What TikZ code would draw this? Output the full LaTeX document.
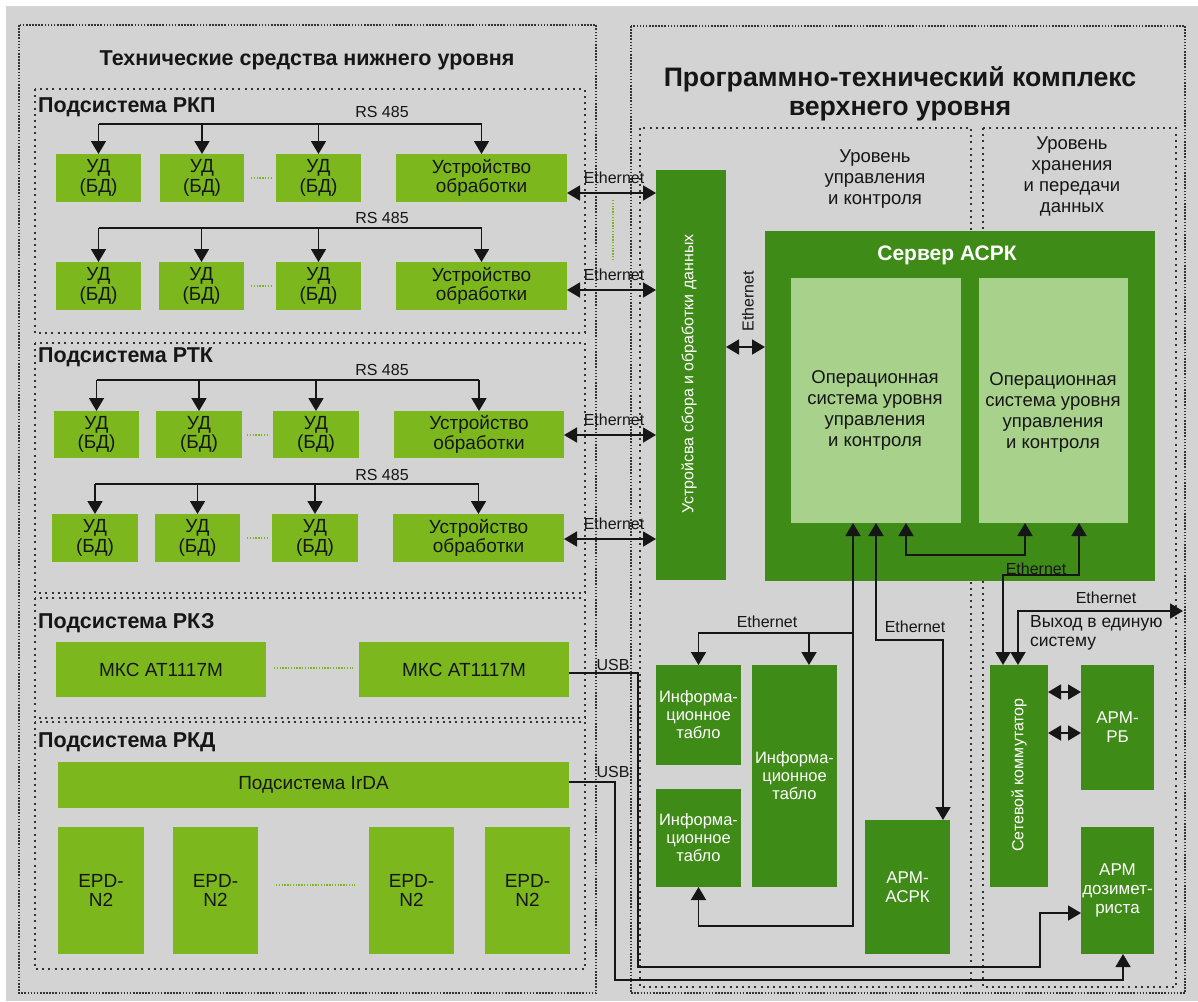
\documentclass[tikz,border=0pt]{standalone}
\usepackage{fontspec}
\setmainfont{Liberation Sans}
\usetikzlibrary{arrows.meta}
\definecolor{bg}{HTML}{D3D3D3}
\definecolor{lgr}{HTML}{7CB81D}
\definecolor{dgr}{HTML}{3F8B17}
\definecolor{pgr}{HTML}{A8D18B}
\definecolor{ink}{HTML}{161616}
\definecolor{dotc}{HTML}{333333}

\newcommand\fz[2]{\fontsize{#1}{#2}\selectfont}
% block given by its corners: style, name, x1, y1, x2, y2, text
\newcommand\blk[7]{\node[#1,minimum width={(#5)-(#3)},minimum height={(#6)-(#4)}] (#2) at ({((#3)+(#5))/2},{((#4)+(#6))/2}) {#7};}

\tikzset{
  Tri/.tip={Triangle[length=13pt,width=15pt]},
  base/.style={inner sep=0pt, outer sep=0pt, align=center},
  lbox/.style={base, fill=lgr, text=ink, font=\fz{19}{19.5}},
  dbox/.style={base, fill=dgr, text=white, font=\fz{16.5}{18}},
  abox/.style={base, fill=dgr, text=white, font=\fz{17}{19}},
  pbox/.style={base, fill=pgr},
  outerdots/.style={draw=dotc, line width=1.6pt, dash pattern=on 1.6pt off 1.5pt},
  innerdots/.style={draw=dotc, line width=2pt, dash pattern=on 2pt off 4.2pt},
  gdots/.style={draw=lgr, line width=1.5pt, dash pattern=on 1.4pt off 1.4pt},
  wire/.style={draw=ink, line width=1.8pt},
  one/.style={wire, -Tri},
  two/.style={wire, Tri-Tri},
  lab/.style={text=ink, font=\fz{16}{18}, inner sep=0pt},
  txt/.style={text=ink, font=\fz{18.5}{21}, inner sep=0pt, align=center},
  head/.style={text=ink, font=\bfseries\fz{21.5}{24}, inner sep=0pt},
}

\begin{document}
\begin{tikzpicture}[x=1pt,y=-1pt]
\useasboundingbox (0,0) rectangle (1198,1001);
\fill[white] (0,0) rectangle (1198,1001);
\fill[bg] (6,6) rectangle (1198,1001);

% ---------- frames ----------
\draw[outerdots] (19,25) rectangle (596,993);
\draw[outerdots] (631,26) rectangle (1185,993);
\draw[innerdots] (35,89) rectangle (585,333);
\draw[innerdots] (35,343) rectangle (585,593);
\draw[innerdots] (35,598) rectangle (585,718);
\draw[innerdots] (35,722) rectangle (585,969);
\draw[innerdots] (640,128) rectangle (971,987);
\draw[innerdots] (983,128) rectangle (1176,987);

% ---------- headings ----------
\node[head, anchor=base] (ttl1) at (307,65) {Технические средства нижнего уровня};
\node[head, font=\bfseries\fz{26.7}{29}, anchor=base] (ttl2a) at (900,86) {Программно-технический комплекс};
\node[head, font=\bfseries\fz{26.7}{29}, anchor=base] (ttl2b) at (900,115) {верхнего уровня};
\node[head, anchor=base west] (hrkp) at (38,112) {Подсистема РКП};
\node[head, anchor=base west] (hrtk) at (38,362) {Подсистема РТК};
\node[head, anchor=base west] (hrkz) at (38,628) {Подсистема РКЗ};
\node[head, anchor=base west] (hrkd) at (38,747) {Подсистема РКД};
\node[txt] (lvl1) at (875,179) {Уровень\\управления\\и контроля};
\node[txt] (lvl2) at (1072,176) {Уровень\\хранения\\и передачи\\данных};

% ---------- subsystem RKP ----------
\blk{lbox}{u11}{56}{154}{141}{202}{УД\\(БД)}
\blk{lbox}{u12}{160}{154}{244}{202}{УД\\(БД)}
\blk{lbox}{u13}{276}{154}{361}{202}{УД\\(БД)}
\blk{lbox}{d11}{396}{154}{567}{202}{Устройство\\обработки}
\blk{lbox}{u21}{56}{262}{141}{310}{УД\\(БД)}
\blk{lbox}{u22}{159}{262}{244}{310}{УД\\(БД)}
\blk{lbox}{u23}{276}{262}{361}{310}{УД\\(БД)}
\blk{lbox}{d21}{396}{262}{567}{310}{Устройство\\обработки}

% ---------- subsystem RTK ----------
\blk{lbox}{u31}{54}{411}{139}{458}{УД\\(БД)}
\blk{lbox}{u32}{156}{411}{242}{458}{УД\\(БД)}
\blk{lbox}{u33}{273}{411}{359}{458}{УД\\(БД)}
\blk{lbox}{d31}{394}{411}{564}{458}{Устройство\\обработки}
\blk{lbox}{u41}{52}{514}{138}{562}{УД\\(БД)}
\blk{lbox}{u42}{155}{514}{240}{562}{УД\\(БД)}
\blk{lbox}{u43}{272}{514}{358}{562}{УД\\(БД)}
\blk{lbox}{d41}{393}{514}{564}{562}{Устройство\\обработки}

% ---------- subsystem RKZ ----------
\blk{lbox}{m1}{56}{642}{266}{697}{МКС АТ1117М}
\blk{lbox}{m2}{359}{642}{569}{697}{МКС АТ1117М}

% ---------- subsystem RKD ----------
\blk{lbox}{irda}{58}{762}{569}{808}{Подсистема IrDA}
\blk{lbox}{e1}{58}{827}{144}{954}{EPD-\\N2}
\blk{lbox}{e2}{173}{827}{258}{954}{EPD-\\N2}
\blk{lbox}{e3}{369}{827}{454}{954}{EPD-\\N2}
\blk{lbox}{e4}{485}{827}{570}{954}{EPD-\\N2}

% ellipsis dots between repeated devices
\draw[gdots] (251,178) -- (272,178);
\draw[gdots] (251,286) -- (272,286);
\draw[gdots] (247,435) -- (268,435);
\draw[gdots] (247,538) -- (268,538);
\draw[gdots] (274,668) -- (353,668);
\draw[gdots] (276,885) -- (355,885);
\draw[gdots] (613,200) -- (613,260);

% ---------- upper level ----------
\blk{dbox}{col}{656}{170}{726}{580}{}
\node[text=white, font=\fz{16}{18}, rotate=90] (colt) at (689,374) {Устройсва сбора и обработки данных};
\blk{dbox}{srv}{765}{231}{1155}{581}{}
\node[text=white, font=\bfseries\fz{21}{24}] (srvt) at (947,255) {Сервер АСРК};
\blk{pbox}{os1}{791}{278}{961}{523}{}
\blk{pbox}{os2}{979}{278}{1128}{523}{}
\node[txt] (os1t) at (875,410) {Операционная\\система уровня\\управления\\и контроля};
\node[txt] (os2t) at (1053,412) {Операционная\\система уровня\\управления\\и контроля};

\blk{dbox}{it1}{656}{665}{741}{765}{Информа-\\ционное\\табло}
\blk{dbox}{it2}{752}{665}{837}{887}{Информа-\\ционное\\табло}
\blk{dbox}{it3}{656}{789}{741}{887}{Информа-\\ционное\\табло}
\blk{abox}{ak}{865}{820}{950}{954}{АРМ-\\АСРК}
\blk{dbox}{sw}{990}{665}{1048}{887}{}
\node[text=white, font=\fz{16}{18}, rotate=90] (swt) at (1019,775) {Сетевой коммутатор};
\blk{abox}{rb}{1081}{665}{1154}{790}{АРМ-\\РБ}
\blk{abox}{ad}{1081}{827}{1154}{954}{АРМ\\дозимет-\\риста}

% ---------- RS 485 buses ----------
\coordinate (bus1) at (0,124);
\coordinate (bus2) at (0,228);
\coordinate (bus3) at (0,380);
\coordinate (bus4) at (0,484);
\draw[wire] (u11.north |- bus1) -- (d11.north |- bus1);
\foreach \n in {u11,u12,u13,d11} \draw[one] (\n.north |- bus1) -- (\n.north);
\draw[wire] (u21.north |- bus2) -- (d21.north |- bus2);
\foreach \n in {u21,u22,u23,d21} \draw[one] (\n.north |- bus2) -- (\n.north);
\draw[wire] (u31.north |- bus3) -- (d31.north |- bus3);
\foreach \n in {u31,u32,u33,d31} \draw[one] (\n.north |- bus3) -- (\n.north);
\draw[wire] (u41.north |- bus4) -- (d41.north |- bus4);
\foreach \n in {u41,u42,u43,d41} \draw[one] (\n.north |- bus4) -- (\n.north);
\node[lab, anchor=base] (rs1) at (382,117) {RS 485};
\node[lab, anchor=base] (rs2) at (382,223) {RS 485};
\node[lab, anchor=base] (rs3) at (382,375) {RS 485};
\node[lab, anchor=base] (rs4) at (382,480) {RS 485};

% ---------- Ethernet links to the collector ----------
\coordinate (et1) at (0,193);
\coordinate (et2) at (0,290);
\coordinate (et3) at (0,435);
\coordinate (et4) at (0,539);
\draw[two] (d11.east |- et1) -- (col.west |- et1);
\draw[two] (d21.east |- et2) -- (col.west |- et2);
\draw[two] (d31.east |- et3) -- (col.west |- et3);
\draw[two] (d41.east |- et4) -- (col.west |- et4);
\node[lab, anchor=base] (le1) at (614,183) {Ethernet};
\node[lab, anchor=base] (le2) at (614,280) {Ethernet};
\node[lab, anchor=base] (le3) at (614,425) {Ethernet};
\node[lab, anchor=base] (le4) at (614,529) {Ethernet};

% collector <-> server
\coordinate (et5) at (0,347);
\draw[two] (col.east |- et5) -- (srv.west |- et5);
\node[lab, rotate=90] (le5) at (748,301) {Ethernet};

% server -> information boards
\coordinate (ia) at (853,926);
\coordinate (ib) at (853,633);
\coordinate (ic) at (809,633);
\draw[two] (ia |- os1.south) -- (ia) -| (it3.south);
\draw[one] (ib) -| (it1.north);
\draw[one] (ic) -- (ic |- it2.north);
\node[lab] (le6) at (767,622) {Ethernet};

% server -> workstation ASRK
\coordinate (ka) at (876,640);
\coordinate (kb) at (943,640);
\draw[two] (ka |- os1.south) -- (ka) -- (kb) -- (kb |- ak.north);
\node[lab] (le7) at (915,627) {Ethernet};

% link between the two operating systems
\coordinate (la) at (906,555);
\coordinate (lb) at (1025,555);
\draw[two] (la |- os1.south) -- (la) -- (lb) -- (lb |- os2.south);

% server -> network switch
\coordinate (sa) at (1079,575);
\coordinate (sb) at (1003,575);
\draw[two] (sa |- os2.south) -- (sa) -- (sb) -- (sb |- sw.north);
\node[lab, anchor=base] (le8) at (1036,574) {Ethernet};

% switch -> external system
\coordinate (oa) at (1018,611);
\coordinate (ob) at (1183,611);
\draw[two] (oa |- sw.north) -- (oa) -- (ob);
\node[lab] (le9) at (1106,598) {Ethernet};
\node[text=ink, font=\fz{17.5}{19}, align=left, anchor=west, inner sep=0pt] (exitt) at (1030,633) {Выход в единую\\систему};

% switch <-> workstation RB
\coordinate (w1) at (0,692);
\coordinate (w2) at (0,733);
\draw[two] (sw.east |- w1) -- (rb.west |- w1);
\draw[two] (sw.east |- w2) -- (rb.west |- w2);

% USB lines to the dosimetrist workstation
\coordinate (ua) at (638,673);
\coordinate (ub) at (638,967);
\coordinate (uc) at (1040,967);
\coordinate (ud) at (1040,913);
\draw[one, line width=1.5pt] (m2.east |- ua) -- (ua) -- (ub) -- (uc) -- (ud) -- (ad.west |- ud);
\coordinate (va) at (615,782);
\coordinate (vb) at (615,980);
\coordinate (vc) at (1123,980);
\draw[one, line width=1.5pt] (irda.east |- va) -- (va) -- (vb) -- (vc) -- (vc |- ad.south);
\node[lab] (usb1) at (613,665) {USB};
\node[lab] (usb2) at (613,772) {USB};
\end{tikzpicture}
\end{document}
